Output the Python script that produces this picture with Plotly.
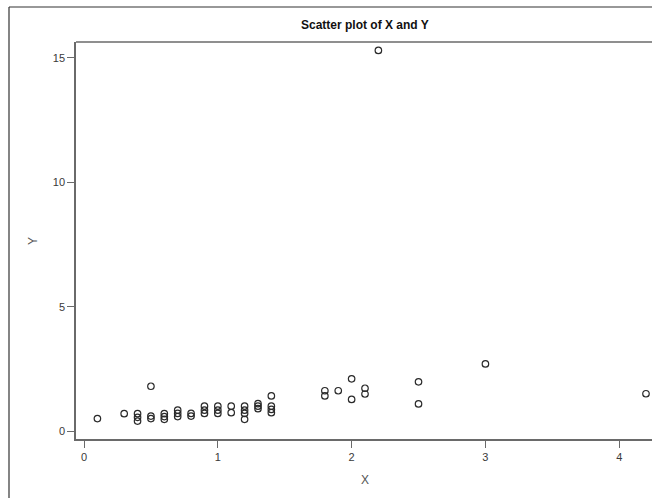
import plotly.graph_objects as go

x_vals = [0.1, 0.3, 0.4, 0.4, 0.4, 0.5, 0.5, 0.5, 0.6, 0.6, 0.6, 0.7, 0.7, 0.7,
          0.8, 0.8, 0.9, 0.9, 0.9, 1.0, 1.0, 1.0, 1.1, 1.1, 1.2, 1.2, 1.2, 1.2,
          1.3, 1.3, 1.3, 1.4, 1.4, 1.4, 1.4, 1.8, 1.8, 1.9, 2.0, 2.0, 2.1, 2.1,
          2.2, 2.5, 2.5, 3.0, 4.2]
y_vals = [0.5, 0.7, 0.7, 0.55, 0.4, 1.8, 0.6, 0.5, 0.7, 0.58, 0.47, 0.84, 0.71, 0.58,
          0.71, 0.6, 1.0, 0.84, 0.71, 1.0, 0.84, 0.71, 1.0, 0.74, 1.0, 0.84, 0.71, 0.47,
          1.1, 1.0, 0.9, 1.41, 1.0, 0.87, 0.74, 1.62, 1.41, 1.62, 2.1, 1.27, 1.72, 1.49,
          15.3, 1.98, 1.09, 2.7, 1.5]

x_ticks = [0, 1, 2, 3, 4]
y_ticks = [0, 5, 10, 15]

W, H = 652, 498
L, T, R, B = 76, 42, 0, 59
pw, ph = W - L - R, H - T - B

def px(xp):
    return (xp - L) / pw

def py(yp):
    return (H - B - yp) / ph

axis_col = "#6a6a6a"
tick_col = "#3a3a3a"
font_fam = "Liberation Sans, Arial, sans-serif"

fig = go.Figure(go.Scatter(
    x=x_vals, y=y_vals, mode="markers",
    marker=dict(symbol="circle-open", size=6.5, color="#2a2a2a", line=dict(width=1.2)),
    showlegend=False, cliponaxis=False,
))

fig.update_layout(
    template="none",
    width=W, height=H,
    margin=dict(l=L, r=R, t=T, b=B),
    paper_bgcolor="white", plot_bgcolor="white",
    font=dict(family=font_fam, size=11, color=tick_col),
    xaxis=dict(range=[-0.06, 4.245], tickvals=x_ticks, ticks="outside", ticklen=7,
               tickcolor=axis_col, tickwidth=1.2, showline=True, linecolor=axis_col,
               linewidth=1.5, showgrid=False, zeroline=False,
               tickfont=dict(size=11, color=tick_col)),
    yaxis=dict(range=[-0.32, 15.64], tickvals=y_ticks, ticks="outside", ticklen=7,
               tickcolor=axis_col, tickwidth=1.2, showline=True, linecolor=axis_col,
               linewidth=1.5, showgrid=False, zeroline=False,
               tickfont=dict(size=11, color=tick_col)),
    shapes=[
        dict(type="line", xref="paper", yref="paper", x0=0, x1=1, y0=1, y1=1,
             line=dict(color=axis_col, width=1.5)),
        dict(type="line", xref="paper", yref="paper", x0=px(9), x1=px(9), y0=py(7), y1=py(H + 2),
             line=dict(color="#333", width=1.2)),
        dict(type="line", xref="paper", yref="paper", x0=px(9), x1=1.0, y0=py(7), y1=py(7),
             line=dict(color="#333", width=1.2)),
    ],
    annotations=[
        dict(text="<b>Scatter plot of X and Y</b>", xref="paper", yref="paper",
             x=px(365), y=py(25), showarrow=False, xanchor="center", yanchor="middle",
             font=dict(size=12, color="#111", family=font_fam)),
        dict(text="X", xref="paper", yref="paper", x=px(365), y=py(480), showarrow=False,
             xanchor="center", yanchor="middle", font=dict(size=12, color="#555")),
        dict(text="Y", xref="paper", yref="paper", x=px(33), y=py(241), showarrow=False,
             textangle=-90, xanchor="center", yanchor="middle", font=dict(size=12, color="#555")),
    ],
)

fig.write_html("out.html")
